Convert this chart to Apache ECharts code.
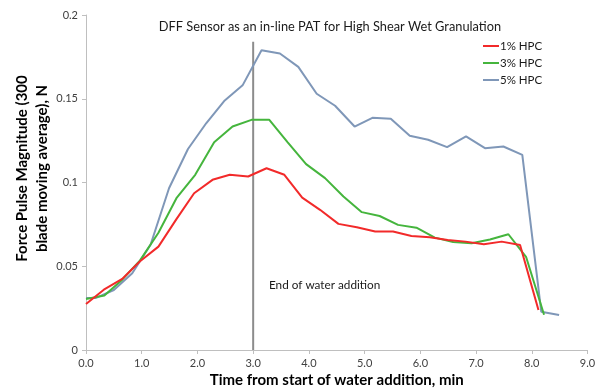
<!DOCTYPE html>
<html>
<head>
<meta charset="utf-8">
<script src="https://cdn.jsdelivr.net/npm/echarts@6/dist/echarts.min.js"></script>
<style>html,body{margin:0;padding:0;background:#fff}#c{width:611px;height:389px}</style>
</head>
<body>
<div id="c"></div>
<script>
// Data
var seriesNames = ['1% HPC', '3% HPC', '5% HPC'];
var redX = [0, 0.32, 0.65, 0.97, 1.30, 1.62, 1.94, 2.27, 2.58, 2.91, 3.24, 3.56, 3.88, 4.20, 4.53, 4.86, 5.19, 5.51, 5.84, 6.17, 6.49, 6.81, 7.14, 7.46, 7.79, 8.12];
var redY = [0.0275, 0.036, 0.0424, 0.053, 0.0617, 0.078, 0.0936, 0.1016, 0.1046, 0.1036, 0.1085, 0.1046, 0.091, 0.0837, 0.0753, 0.0733, 0.0707, 0.0707, 0.0681, 0.0673, 0.0657, 0.0647, 0.0631, 0.0647, 0.0627, 0.0239];
var greenX = [0, 0.33, 0.65, 0.97, 1.30, 1.63, 1.96, 2.30, 2.63, 2.97, 3.29, 3.62, 3.95, 4.29, 4.62, 4.95, 5.27, 5.60, 5.93, 6.26, 6.59, 6.92, 7.25, 7.58, 7.90, 8.22];
var greenY = [0.0305, 0.0325, 0.042, 0.0535, 0.070, 0.091, 0.1046, 0.124, 0.1334, 0.1374, 0.1374, 0.124, 0.111, 0.1026, 0.0916, 0.0823, 0.080, 0.0747, 0.073, 0.0671, 0.0645, 0.0637, 0.066, 0.0691, 0.0554, 0.021];
var blueX = [0, 0.17, 0.50, 0.83, 1.16, 1.49, 1.83, 2.16, 2.49, 2.81, 3.15, 3.48, 3.81, 4.14, 4.47, 4.82, 5.14, 5.47, 5.81, 6.14, 6.48, 6.82, 7.16, 7.49, 7.83, 8.17, 8.49];
var blueY = [0.031, 0.031, 0.0358, 0.0458, 0.063, 0.0966, 0.120, 0.1355, 0.149, 0.158, 0.179, 0.177, 0.169, 0.153, 0.1458, 0.1334, 0.1386, 0.138, 0.1279, 0.1255, 0.1211, 0.1275, 0.1205, 0.1215, 0.1165, 0.0229, 0.0209];
var waterEndX = [3.0, 3.0];
var waterEndY = [0, 0.184];
var xTickLabels = ['0.0', '1.0', '2.0', '3.0', '4.0', '5.0', '6.0', '7.0', '8.0', '9.0'];
var yTickLabels = ['0', '0.05', '0.1', '0.15', '0.2'];

function pairs(xs, ys) { return xs.map(function (x, i) { return [x, ys[i]]; }); }

var chart = echarts.init(document.getElementById('c'));
var font = 'Lato';
chart.setOption({
  animation: false,
  backgroundColor: '#ffffff',
  textStyle: { fontFamily: font },
  title: {
    text: 'DFF Sensor as an in-line PAT for High Shear Wet Granulation',
    left: 325, top: 15, textAlign: 'center',
    textStyle: { fontFamily: font, fontSize: 12.8, fontWeight: 'normal', color: '#1a1a1a' }
  },
  legend: {
    data: seriesNames,
    orient: 'vertical',
    left: 478, top: 35,
    itemWidth: 16, itemHeight: 2, itemGap: 5,
    icon: 'rect',
    textStyle: { fontFamily: font, fontSize: 11.5, color: '#1a1a1a', padding: [0, 0, 0, -4] }
  },
  grid: { left: 86, right: 23.5, top: 15, bottom: 39, containLabel: false, outerBoundsMode: 'none' },
  xAxis: {
    type: 'value', min: 0, max: 9, interval: 1,
    name: 'Time from start of water addition, min',
    nameLocation: 'middle', nameGap: 23, nameMoveOverlap: false,
    nameTextStyle: { fontFamily: font, fontSize: 15, fontWeight: 'bold', color: '#000' },
    axisLine: { show: true, lineStyle: { color: '#bfbfbf', width: 1 } },
    axisTick: { show: true, length: 4, lineStyle: { color: '#bfbfbf' } },
    axisLabel: { fontFamily: font, fontSize: 11, color: '#404040', margin: 8,
      formatter: function (v) { return xTickLabels[Math.round(v)]; } },
    splitLine: { show: false }
  },
  yAxis: {
    type: 'value', min: 0, max: 0.2, interval: 0.05,
    name: 'Force Pulse Magnitude (300\nblade moving average), N',
    nameLocation: 'middle', nameGap: 34, nameMoveOverlap: false,
    nameTextStyle: { fontFamily: font, fontSize: 15, fontWeight: 'bold', color: '#000', lineHeight: 20, padding: [0, 0, 0, 28] },
    axisLine: { show: true, lineStyle: { color: '#bfbfbf', width: 1 } },
    axisTick: { show: true, length: 4, lineStyle: { color: '#bfbfbf' } },
    axisLabel: { fontFamily: font, fontSize: 11, color: '#404040', margin: 8,
      formatter: function (v) { return yTickLabels[Math.round(v / 0.05)]; } },
    splitLine: { show: false }
  },
  graphic: [{
    type: 'text', left: 269, top: 279,
    style: { text: 'End of water addition', fontFamily: font, fontSize: 11.75, fill: '#1a1a1a' }
  }],
  series: [
    { name: 'waterEnd', type: 'line', data: pairs(waterEndX, waterEndY), symbol: 'none',
      lineStyle: { color: '#8c8c8c', width: 2 }, silent: true, z: 1 },
    { name: seriesNames[0], type: 'line', data: pairs(redX, redY), symbol: 'none',
      itemStyle: { color: '#f22a2a' }, lineStyle: { color: '#f22a2a', width: 2 }, z: 4 },
    { name: seriesNames[1], type: 'line', data: pairs(greenX, greenY), symbol: 'none',
      itemStyle: { color: '#45b53d' }, lineStyle: { color: '#45b53d', width: 2 }, z: 3 },
    { name: seriesNames[2], type: 'line', data: pairs(blueX, blueY), symbol: 'none',
      itemStyle: { color: '#7f97b8' }, lineStyle: { color: '#7f97b8', width: 2 }, z: 2 }
  ]
});
</script>
</body>
</html>
